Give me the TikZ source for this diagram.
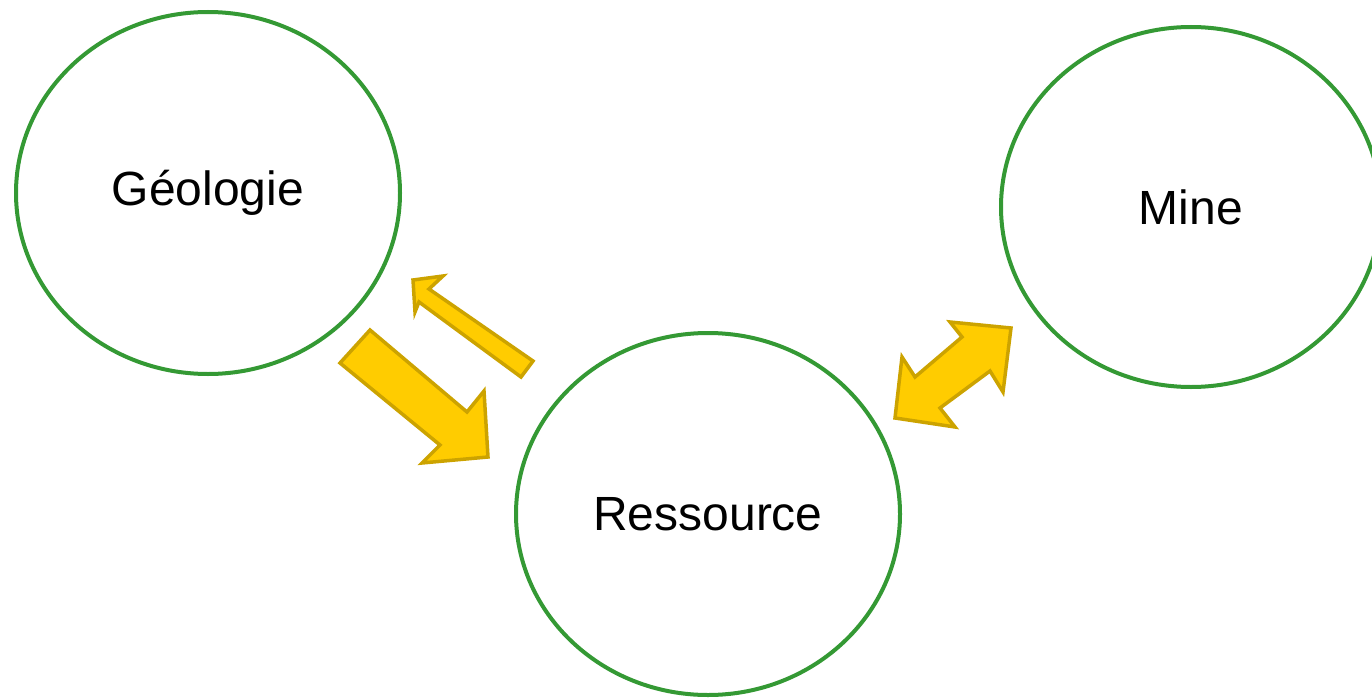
\documentclass[tikz,border=0pt]{standalone}
\usepackage{fontspec}
\setmainfont{Liberation Sans}
\usetikzlibrary{shapes.geometric}
\definecolor{ringgreen}{RGB}{52,153,52}
\definecolor{arrowfill}{RGB}{255,204,0}
\definecolor{arrowedge}{RGB}{204,163,0}
\tikzset{
  ring/.style={draw=ringgreen, line width=4pt, ellipse, inner sep=0pt,
    font=\fontsize{48}{57}\selectfont},
  blockarrow/.style={fill=arrowfill, draw=arrowedge, line width=3.5pt, line join=miter}
}
\begin{document}
\begin{tikzpicture}[x=1pt,y=-1pt]
\useasboundingbox (0,0) rectangle (1372,698);
\node[ring, minimum width=384pt, minimum height=362pt] (geo) at (208,193) {Géologie};
\node[ring, minimum width=380pt, minimum height=360pt] (mine) at (1191,207) {Mine};
\node[ring, minimum width=384pt, minimum height=362pt] (res) at (708,514) {Ressource};
% big arrow Geologie -> Ressource
\draw[blockarrow] (340,363) -- (370,330) -- (467,412) -- (484,391) -- (488,457) -- (422,463) -- (440,445) -- cycle;
% small arrow Ressource -> Geologie
\draw[blockarrow] (413,280) -- (443,276) -- (429,289) -- (533,361) -- (521,377) -- (419,302) -- (415,312) -- cycle;
% double arrow Ressource <-> Mine
\draw[blockarrow] (1011,328) -- (950,322) -- (962,337) -- (915,377) -- (902,357) -- (895,418) -- (955,427) -- (940,408) -- (990,371) -- (1003,392) -- cycle;
\end{tikzpicture}
\end{document}
